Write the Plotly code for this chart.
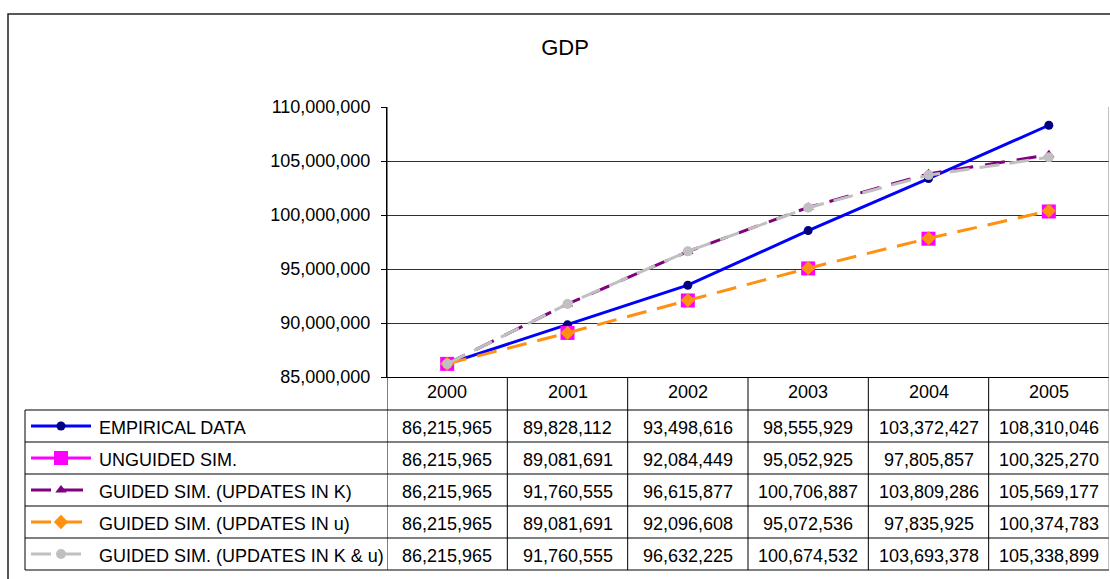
import plotly.graph_objects as go

# ---------------- data ----------------
years = ["2000", "2001", "2002", "2003", "2004", "2005"]
series_names = [
    "EMPIRICAL DATA",
    "UNGUIDED SIM.",
    "GUIDED SIM. (UPDATES IN K)",
    "GUIDED SIM. (UPDATES IN u)",
    "GUIDED SIM. (UPDATES IN K & u)",
]
empirical = [86215965, 89828112, 93498616, 98555929, 103372427, 108310046]
unguided = [86215965, 89081691, 92084449, 95052925, 97805857, 100325270]
guided_k = [86215965, 91760555, 96615877, 100706887, 103809286, 105569177]
guided_u = [86215965, 89081691, 92096608, 95072536, 97835925, 100374783]
guided_ku = [86215965, 91760555, 96632225, 100674532, 103693378, 105338899]
series_values = [empirical, unguided, guided_k, guided_u, guided_ku]

# ---------------- styles ----------------
W, H = 1110, 579
FONT = "Liberation Sans, Arial, sans-serif"
FS = 18

styles = [
    dict(mode="lines+markers", line=dict(color="#0000FF", width=3),
         marker=dict(symbol="circle", size=9, color="#000080")),
    dict(mode="markers", line=dict(color="#FF00FF", width=3),
         marker=dict(symbol="square", size=14, color="#FF00FF")),
    dict(mode="lines+markers", line=dict(color="#800080", width=3, dash="20px,12px"),
         marker=dict(symbol="triangle-up", size=10, color="#800080")),
    dict(mode="lines+markers", line=dict(color="#FF9010", width=3, dash="20px,11px"),
         marker=dict(symbol="diamond", size=11, color="#FF9010")),
    dict(mode="lines+markers", line=dict(color="#C0C0C0", width=3, dash="20px,10px"),
         marker=dict(symbol="circle", size=10, color="#C0C0C0")),
]

# layout geometry (pixels)
PL, PR, PT, PB = 387, 1109, 107, 377
TABLE_LEFT = 25
HEADER_BOTTOM = 410
ROW_H = 32
N_ROWS = len(series_names)
TABLE_BOTTOM = HEADER_BOTTOM + ROW_H * N_ROWS
TEXT_DY = 2


def px(x):
    return x / W


def py(y):
    return 1 - y / H


fig = go.Figure()

for name, vals, st in zip(series_names, series_values, styles):
    fig.add_trace(go.Scatter(x=years, y=vals, name=name, showlegend=False,
                             xaxis="x", yaxis="y", cliponaxis=False, **st))

# legend keys in the data table (axis covering the table's label column, pixel units)
for i, st in enumerate(styles):
    cy = HEADER_BOTTOM + ROW_H * i + ROW_H / 2
    fig.add_trace(go.Scatter(x=[31, 91], y=[cy, cy], mode="lines", line=st["line"],
                             xaxis="x2", yaxis="y2", showlegend=False, hoverinfo="skip"))
    fig.add_trace(go.Scatter(x=[61], y=[cy], mode="markers", marker=st["marker"],
                             xaxis="x2", yaxis="y2", showlegend=False, hoverinfo="skip"))

shapes = []
# outer chart border
shapes.append(dict(type="rect", xref="paper", yref="paper",
                   x0=px(8), y0=py(14), x1=px(W + 10), y1=py(H + 10),
                   line=dict(color="#222222", width=1.5)))
# table horizontal lines
for k in range(N_ROWS + 1):
    yy = HEADER_BOTTOM + ROW_H * k
    shapes.append(dict(type="line", xref="paper", yref="paper",
                       x0=px(TABLE_LEFT), x1=px(PR), y0=py(yy), y1=py(yy),
                       line=dict(color="#000000", width=1)))
# table left border
shapes.append(dict(type="line", xref="paper", yref="paper",
                   x0=px(TABLE_LEFT), x1=px(TABLE_LEFT),
                   y0=py(HEADER_BOTTOM), y1=py(TABLE_BOTTOM),
                   line=dict(color="#000000", width=1)))
# column separators (category boundaries)
for j in range(len(years) + 1):
    top = PT if j in (0, len(years)) else PB
    col = "#808080" if j == len(years) else "#000000"
    shapes.append(dict(type="line", xref="x", yref="paper",
                       x0=j - 0.5, x1=j - 0.5, y0=py(top), y1=py(TABLE_BOTTOM),
                       line=dict(color=col, width=1)))

annotations = []
for j, yr in enumerate(years):
    annotations.append(dict(xref="x", yref="paper", x=j, y=py(392), text=yr,
                            showarrow=False, xanchor="center", yanchor="middle",
                            font=dict(family=FONT, size=FS, color="#000")))
for i, (name, vals) in enumerate(zip(series_names, series_values)):
    cy = HEADER_BOTTOM + ROW_H * i + ROW_H / 2 + TEXT_DY
    annotations.append(dict(xref="paper", yref="paper", x=px(97), y=py(cy), text=name,
                            showarrow=False, xanchor="left", yanchor="middle",
                            font=dict(family=FONT, size=FS, color="#000")))
    for j, v in enumerate(vals):
        annotations.append(dict(xref="x", yref="paper", x=j, y=py(cy), text=f"{v:,}",
                                showarrow=False, xanchor="center", yanchor="middle",
                                font=dict(family=FONT, size=FS, color="#000")))

fig.update_layout(
    template="none",
    width=W, height=H, autosize=False,
    margin=dict(l=0, r=0, t=0, b=0, pad=0, autoexpand=False),
    paper_bgcolor="white", plot_bgcolor="rgba(0,0,0,0)",
    font=dict(family=FONT, size=FS, color="#000"),
    title=dict(text="GDP", x=565 / W, y=py(47), xref="container", yref="container",
               xanchor="center", yanchor="middle",
               font=dict(family=FONT, size=22, color="#000")),
    xaxis=dict(type="category", categoryorder="array", categoryarray=years,
               domain=[px(PL), px(PR)], range=[-0.5, 5.5], automargin=False,
               showticklabels=False, showgrid=False, zeroline=False,
               showline=True, linecolor="#000", linewidth=1, ticks=""),
    yaxis=dict(domain=[py(PB), py(PT)], range=[85_000_000, 110_000_000], automargin=False,
               dtick=5_000_000, tick0=85_000_000, tickformat=",",
               showgrid=True, gridcolor="#303030", gridwidth=1, zeroline=False,
               showline=True, linecolor="#000", linewidth=1,
               ticks="outside", ticklen=5, tickcolor="#000",
               ticklabelstandoff=7, tickfont=dict(family=FONT, size=FS, color="#000")),
    xaxis2=dict(domain=[px(TABLE_LEFT), px(PL)], range=[TABLE_LEFT, PL], visible=False,
                fixedrange=True, anchor="y2", automargin=False),
    yaxis2=dict(domain=[py(TABLE_BOTTOM), py(HEADER_BOTTOM)], range=[TABLE_BOTTOM, HEADER_BOTTOM],
                visible=False, fixedrange=True, anchor="x2", automargin=False),
    shapes=shapes,
    annotations=annotations,
)

fig.write_html(
    "out.html",
    config={"displayModeBar": False},
    post_script="document.body.style.margin='0';document.body.style.overflow='hidden';",
)
